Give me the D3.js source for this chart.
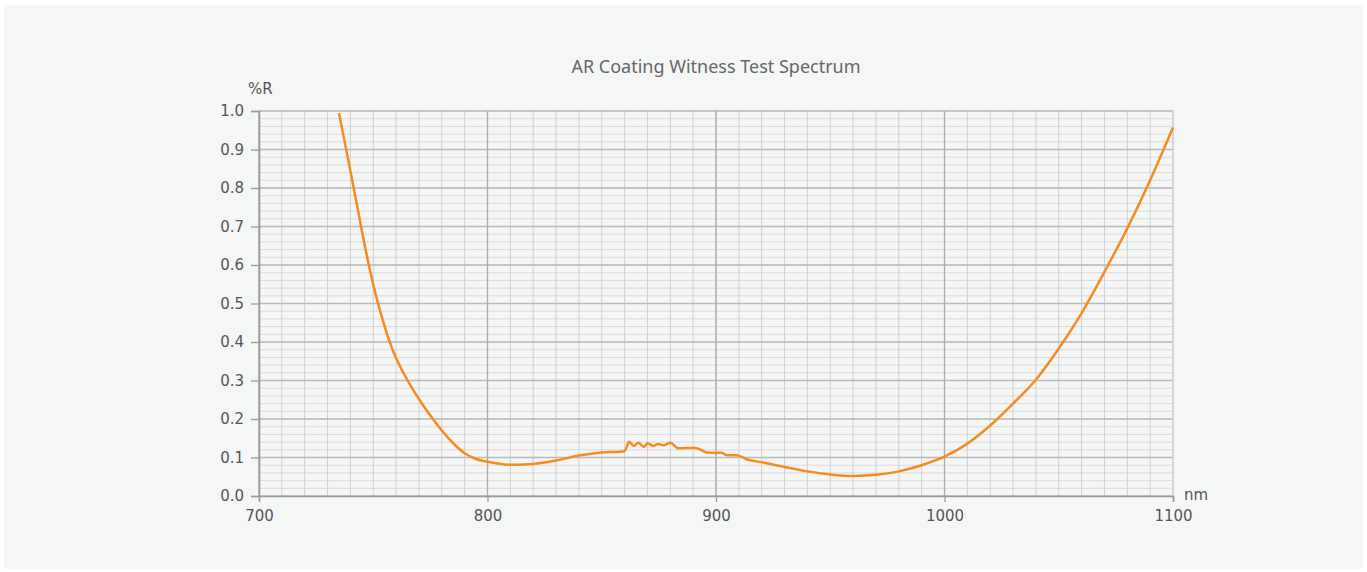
<!DOCTYPE html>
<html lang="en">
  <head>
    <meta charset="UTF-8" />
    <script src="https://d3js.org/d3.v7.min.js"></script>
    <style>
      body { margin: 0; background: #ffffff; }
      text { font-family: "Noto Sans", "Open Sans", sans-serif; }
    </style>
  </head>
  <body>
    <div id="chart"></div>
    <script>
      // wavelength (nm) and reflectance (%R)
      var wavelength = [735, 739, 743, 747, 751, 755, 759, 763, 767, 771, 775, 780, 785, 790, 795, 800, 805, 812, 820, 830, 840, 850, 858, 860, 862, 864, 866, 868.5, 870, 872.5, 874.5, 877, 880, 883.5, 891, 896, 900, 902, 905, 909, 914, 920, 928, 940, 950, 960, 970, 980, 990, 1000, 1010, 1020, 1030, 1040, 1050, 1060, 1070, 1080, 1090, 1100];
      var reflect = [0.995, 0.875, 0.752, 0.630, 0.525, 0.440, 0.372, 0.322, 0.280, 0.243, 0.209, 0.170, 0.137, 0.111, 0.096, 0.089, 0.084, 0.081, 0.083, 0.092, 0.105, 0.113, 0.115, 0.117, 0.141, 0.130, 0.138, 0.128, 0.137, 0.130, 0.135, 0.132, 0.138, 0.124, 0.125, 0.113, 0.112, 0.113, 0.106, 0.106, 0.094, 0.088, 0.078, 0.064, 0.056, 0.052, 0.055, 0.064, 0.080, 0.102, 0.136, 0.183, 0.240, 0.302, 0.383, 0.475, 0.582, 0.695, 0.820, 0.957];
      var xTicks = [700, 800, 900, 1000, 1100];
      var yTicks = [0, 0.1, 0.2, 0.3, 0.4, 0.5, 0.6, 0.7, 0.8, 0.9, 1.0];

      var width = 1367, height = 572;
      var plotLeft = 259, plotRight = 1173, plotTop = 111, plotBottom = 496;
      var tickFont = "'DejaVu Sans', sans-serif";

      var svg = d3.select("#chart").append("svg")
        .attr("width", width)
        .attr("height", height);

      // light panel
      svg.append("rect")
        .attr("x", 4).attr("y", 5)
        .attr("width", 1359).attr("height", 564)
        .attr("fill", "#f5f6f6");

      var x = d3.scaleLinear().domain([700, 1100]).range([plotLeft, plotRight]);
      var y = d3.scaleLinear().domain([0, 1]).range([plotBottom, plotTop]);

      // minor grid
      var xMinor = d3.range(700, 1101, 10);
      var yMinor = d3.range(0, 51).map(function (i) { return i / 50; });

      svg.append("g").selectAll("line")
        .data(yMinor)
        .enter().append("line")
        .attr("x1", plotLeft).attr("x2", plotRight)
        .attr("y1", function (d) { return y(d); })
        .attr("y2", function (d) { return y(d); })
        .attr("stroke", "#dadbdb").attr("stroke-width", 1);

      svg.append("g").selectAll("line")
        .data(xMinor)
        .enter().append("line")
        .attr("x1", function (d) { return x(d); })
        .attr("x2", function (d) { return x(d); })
        .attr("y1", plotTop).attr("y2", plotBottom)
        .attr("stroke", "#cfd0d0").attr("stroke-width", 1);

      // major grid
      svg.append("g").selectAll("line")
        .data(yTicks)
        .enter().append("line")
        .attr("x1", plotLeft).attr("x2", plotRight)
        .attr("y1", function (d) { return y(d); })
        .attr("y2", function (d) { return y(d); })
        .attr("stroke", "#b9baba").attr("stroke-width", 1.3);

      svg.append("g").selectAll("line")
        .data(xTicks)
        .enter().append("line")
        .attr("x1", function (d) { return x(d); })
        .attr("x2", function (d) { return x(d); })
        .attr("y1", plotTop).attr("y2", plotBottom)
        .attr("stroke", function (d) { return d === 1100 ? "#cfd0d0" : "#a9aaaa"; })
        .attr("stroke-width", 1.3);

      // axes
      var yAxis = svg.append("g")
        .attr("transform", "translate(" + plotLeft + ",0)")
        .call(d3.axisLeft(y).tickValues(yTicks).tickFormat(d3.format(".1f")).tickSize(8).tickPadding(7));
      var xAxis = svg.append("g")
        .attr("transform", "translate(0," + plotBottom + ")")
        .call(d3.axisBottom(x).tickValues(xTicks).tickFormat(d3.format("d")).tickSize(6).tickPadding(8));

      [yAxis, xAxis].forEach(function (g) {
        g.select(".domain").attr("stroke", "#999a9a").attr("stroke-width", 1.5);
        g.selectAll(".tick line").attr("stroke", "#999a9a").attr("stroke-width", 1.3);
        g.selectAll("text")
          .attr("fill", "#555")
          .style("font-size", "15px")
          .style("font-family", tickFont);
      });

      // data line
      var line = d3.line()
        .x(function (d, i) { return x(wavelength[i]); })
        .y(function (d) { return y(d); })
        .curve(d3.curveMonotoneX);

      svg.append("path")
        .datum(reflect)
        .attr("d", line)
        .attr("fill", "none")
        .attr("stroke", "#f68b1f")
        .attr("stroke-width", 2.5)
        .attr("stroke-linejoin", "round");

      // titles
      svg.append("text")
        .attr("x", (plotLeft + plotRight) / 2)
        .attr("y", 73)
        .attr("text-anchor", "middle")
        .attr("fill", "#666")
        .style("font-size", "18px")
        .text("AR Coating Witness Test Spectrum");

      svg.append("text")
        .attr("x", 248).attr("y", 94)
        .attr("fill", "#555")
        .style("font-size", "15px")
        .style("font-family", tickFont)
        .text("%R");

      svg.append("text")
        .attr("x", 1184).attr("y", 500)
        .attr("fill", "#555")
        .style("font-size", "15px")
        .style("font-family", tickFont)
        .text("nm");
    </script>
  </body>
</html>
